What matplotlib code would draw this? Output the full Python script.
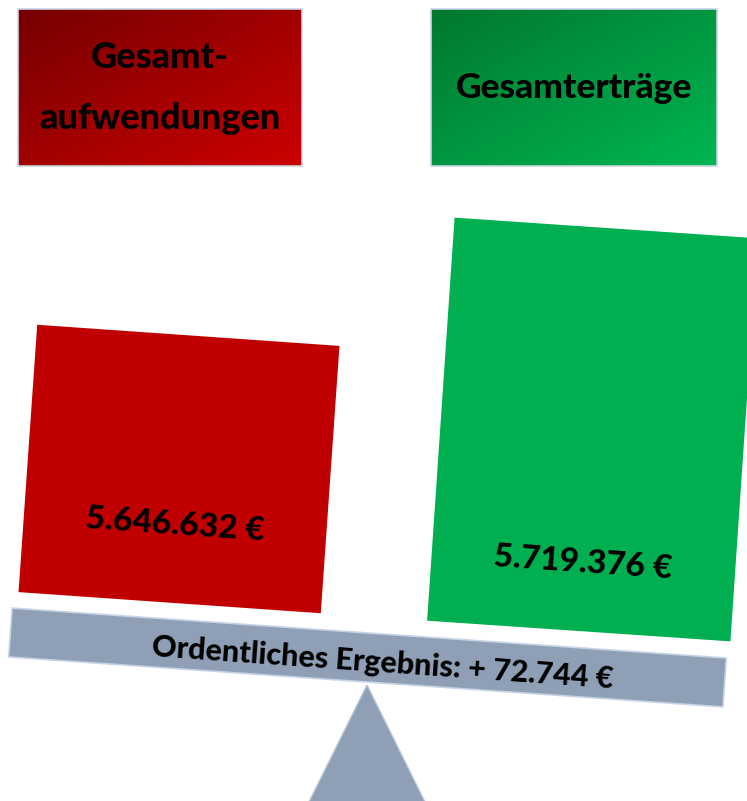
import numpy as np
import matplotlib.pyplot as plt
from matplotlib.patches import Rectangle, Polygon
from matplotlib.colors import LinearSegmentedColormap
import matplotlib.transforms as mtransforms

# data
labels = ["Gesamt-\naufwendungen", "Gesamterträge"]
amounts = [5646632, 5719376]
result_label = "Ordentliches Ergebnis"

FONT = "Lato"
WEIGHT = 900
BEAM = "#8e9fb6"


def euro(v, sign=False):
    s = f"{v:,}".replace(",", ".") + " €"
    return ("+ " + s) if sign else s


fig = plt.figure(figsize=(7.47, 8.01), dpi=100)
ax = fig.add_axes([0, 0, 1, 1])
ax.set_xlim(0, 747)
ax.set_ylim(801, 0)
ax.axis("off")


def gradient_box(x0, y0, w, h, c_dark, c_light):
    cmap = LinearSegmentedColormap.from_list("g", [c_dark, c_light])
    gx, gy = np.meshgrid(np.linspace(0, 1, 200), np.linspace(0, 1, 200))
    im = ax.imshow(gx * 0.5 + gy * 0.5, cmap=cmap, extent=(x0, x0 + w, y0 + h, y0),
                   origin="upper", zorder=1, aspect="auto")
    frame = Rectangle((x0, y0), w, h, fc="none", ec="#c8d4e6", lw=1.2, zorder=2)
    ax.add_patch(frame)
    im.set_clip_path(frame)


def tilted_box(cx, cy, w, h, angle, color, z=3):
    r = Rectangle((cx - w / 2, cy - h / 2), w, h, fc=color, ec="none", zorder=z)
    r.set_transform(mtransforms.Affine2D().rotate_deg_around(cx, cy, angle) + ax.transData)
    ax.add_patch(r)
    return r


# header boxes
gradient_box(18, 9, 284, 157, "#760000", "#cc0000")
gradient_box(431, 9, 286, 157, "#00782e", "#00b652")
ax.text(160, 88, labels[0], ha="center", va="center", fontsize=26, fontweight=WEIGHT,
        family=FONT, linespacing=2.05, zorder=4)
ax.text(574, 88, labels[1], ha="center", va="center", fontsize=25.5, fontweight=WEIGHT,
        family=FONT, zorder=4)

# scale: fulcrum and beam
tri = Polygon([(367, 685), (305, 810), (429, 810)], closed=True, fc=BEAM, ec="#b8c6da",
              lw=1, zorder=2)
ax.add_patch(tri)
beam = tilted_box(367.5, 657.5, 716, 49, 4.0, BEAM, z=3)
beam.set_edgecolor("#c8d4e6")
beam.set_linewidth(1.2)
ax.text(383, 663, result_label + ": " + euro(amounts[1] - amounts[0], sign=True),
        ha="center", va="center", rotation=-4, rotation_mode="anchor", fontsize=22,
        fontweight=WEIGHT, family=FONT, zorder=5)

# weights
tilted_box(179, 469, 303, 268, 4.0, "#c00000")
tilted_box(592.5, 429.5, 304, 404, 3.9, "#00b050")
ax.text(175, 525, euro(amounts[0]), ha="center", va="center", rotation=-4,
        rotation_mode="anchor", fontsize=24, fontweight=WEIGHT, family=FONT, zorder=5)
ax.text(583, 563, euro(amounts[1]), ha="center", va="center", rotation=-4,
        rotation_mode="anchor", fontsize=24, fontweight=WEIGHT, family=FONT, zorder=5)

fig.savefig("out.png", dpi=100, facecolor="white")
